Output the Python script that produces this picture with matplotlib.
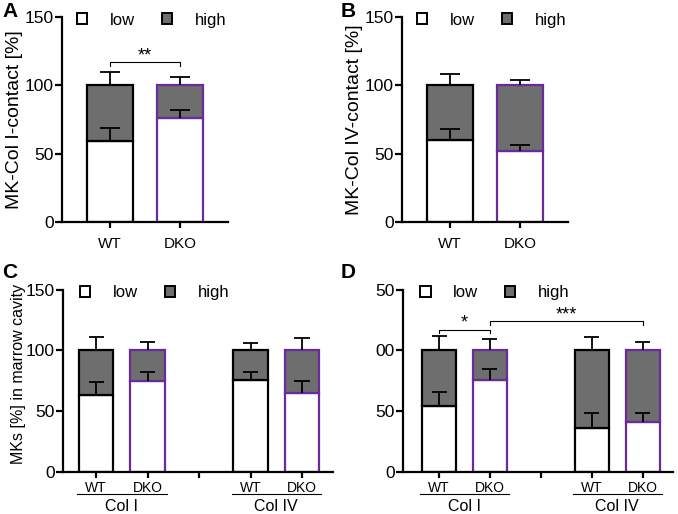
import matplotlib
matplotlib.use('Agg')
import matplotlib.pyplot as plt
from matplotlib.patches import Patch
import numpy as np

plt.rcParams['font.family'] = ['Liberation Sans', 'DejaVu Sans']

GRAY = '#6e6e6e'
PURPLE = '#6a2a9a'

# --- data -------------------------------------------------------------
genotypes = ['WT', 'DKO']

# A: MK-Col I contact
a_low = [59, 76]
a_low_err = [10, 6]
a_total = [100, 100]
a_total_err = [10, 6]

# B: MK-Col IV contact
b_low = [60, 52]
b_low_err = [8, 4]
b_total = [100, 100]
b_total_err = [8, 4]

# C / D: WT, DKO for Col I and Col IV
groups = ['Col I', 'Col IV']
c_low = [63, 75, 76, 65]
c_low_err = [11, 7, 6, 10]
c_total = [100, 100, 100, 100]
c_total_err = [11, 7, 6, 10]

d_low = [54, 76, 36, 41]
d_low_err = [12, 9, 12, 7]
d_total = [100, 100, 100, 100]
d_total_err = [12, 9, 11, 7]

yticks = [0, 50, 100, 150]
d_ytick_labels = ['0', '50', '00', '50']


def stacked(ax, xs, low, low_err, total, total_err, width):
    edges = ['black', PURPLE] * (len(xs) // 2)
    high = [t - l for t, l in zip(total, low)]
    ax.bar(xs, low, width, color='white', edgecolor=edges, linewidth=1.6, zorder=2)
    ax.bar(xs, high, width, bottom=low, color=GRAY, edgecolor=edges,
           linewidth=1.6, zorder=2)
    cap = width * 0.22
    for x, l, le, t, te in zip(xs, low, low_err, total, total_err):
        ax.vlines(x, l, l + le, color='black', lw=1.3, zorder=3)
        ax.hlines(l + le, x - cap, x + cap, color='black', lw=1.3, zorder=3)
        ax.vlines(x, t, t + te, color='black', lw=1.3, zorder=3)
        ax.hlines(t + te, x - cap, x + cap, color='black', lw=1.3, zorder=3)


def style(ax, xlim, leg_x, xsize, xpad):
    ax.set_xlim(*xlim)
    ax.set_ylim(0, 150)
    ax.set_yticks(yticks)
    for s in ['top', 'right']:
        ax.spines[s].set_visible(False)
    ax.spines['left'].set_linewidth(1.6)
    ax.spines['bottom'].set_linewidth(1.6)
    ax.tick_params(axis='y', labelsize=12.5, width=1.6, length=5, pad=1)
    ax.tick_params(axis='x', labelsize=xsize, width=1.6, length=4.5, pad=xpad)
    handles = [Patch(facecolor='white', edgecolor='black', lw=1.4),
               Patch(facecolor=GRAY, edgecolor='black', lw=1.4)]
    ax.legend(handles, ['low', 'high'], ncol=2, frameon=False, fontsize=12,
              loc='center left', bbox_to_anchor=(leg_x, 0.985),
              borderpad=0, borderaxespad=0,
              handlelength=0.62, handleheight=0.62, handletextpad=1.35,
              columnspacing=1.6)


def bracket(ax, x1, x2, y, label, drop=3):
    ax.plot([x1, x1, x2, x2], [y - drop, y, y, y - drop], color='black', lw=0.8)
    ax.text((x1 + x2) / 2, y - 1.5, label, ha='center', va='bottom', fontsize=13)


def group_labels(ax, xs):
    tr = ax.get_xaxis_transform()
    for i, g in enumerate(groups):
        x1, x2 = xs[2 * i], xs[2 * i + 1]
        ax.plot([x1 - 0.37, x2 + 0.37], [-0.124, -0.124], color='black', lw=0.8,
                transform=tr, clip_on=False)
        ax.text((x1 + x2) / 2, -0.152, g, ha='center', va='top', fontsize=11.5,
                transform=tr)


fig = plt.figure(figsize=(6.78, 5.14), dpi=100)

# A
axA = fig.add_axes([0.0914, 0.568, 0.245, 0.399])
stacked(axA, [0, 1], a_low, a_low_err, a_total, a_total_err, 0.66)
style(axA, (-0.686, 1.686), 0.09, 11, 6)
axA.set_xticks([0, 1], genotypes)
axA.set_ylabel('MK-Col I-contact [%]', fontsize=14, labelpad=1)
bracket(axA, 0, 1, 117, '**')

# B
axB = fig.add_axes([0.593, 0.568, 0.245, 0.399])
stacked(axB, [0, 1], b_low, b_low_err, b_total, b_total_err, 0.66)
style(axB, (-0.686, 1.686), 0.09, 11, 6)
axB.set_xticks([0, 1], genotypes)
axB.set_ylabel('MK-Col IV-contact [%]', fontsize=14, labelpad=1)

# C
xs = [0, 1, 3, 4]
axC = fig.add_axes([0.093, 0.0823, 0.398, 0.354])
stacked(axC, xs, c_low, c_low_err, c_total, c_total_err, 0.67)
style(axC, (-0.644, 4.6), 0.063, 10, 2)
axC.set_xticks([0, 1, 2, 3, 4], ['WT', 'DKO', '', 'WT', 'DKO'])
axC.set_ylabel('MKs [%] in marrow cavity', fontsize=11.5)
axC.yaxis.set_label_coords(-0.137, 0.535)
group_labels(axC, xs)

# D
axD = fig.add_axes([0.595, 0.0823, 0.398, 0.354])
stacked(axD, xs, d_low, d_low_err, d_total, d_total_err, 0.67)
style(axD, (-0.7, 4.6), 0.063, 10, 2)
axD.set_xticks([0, 1, 2, 3, 4], ['WT', 'DKO', '', 'WT', 'DKO'])
axD.set_yticklabels(d_ytick_labels)
group_labels(axD, xs)
bracket(axD, 0, 1, 117, '*')
bracket(axD, 1, 4, 124, '***')

for x, y, s in [(0.0, 0.997, 'A'), (0.5, 0.997, 'B'),
                (0.0, 0.489, 'C'), (0.5, 0.489, 'D')]:
    fig.text(x + 0.003, y, s, fontsize=15, fontweight='bold', va='top', ha='left')

fig.savefig('out.png', dpi=100)
